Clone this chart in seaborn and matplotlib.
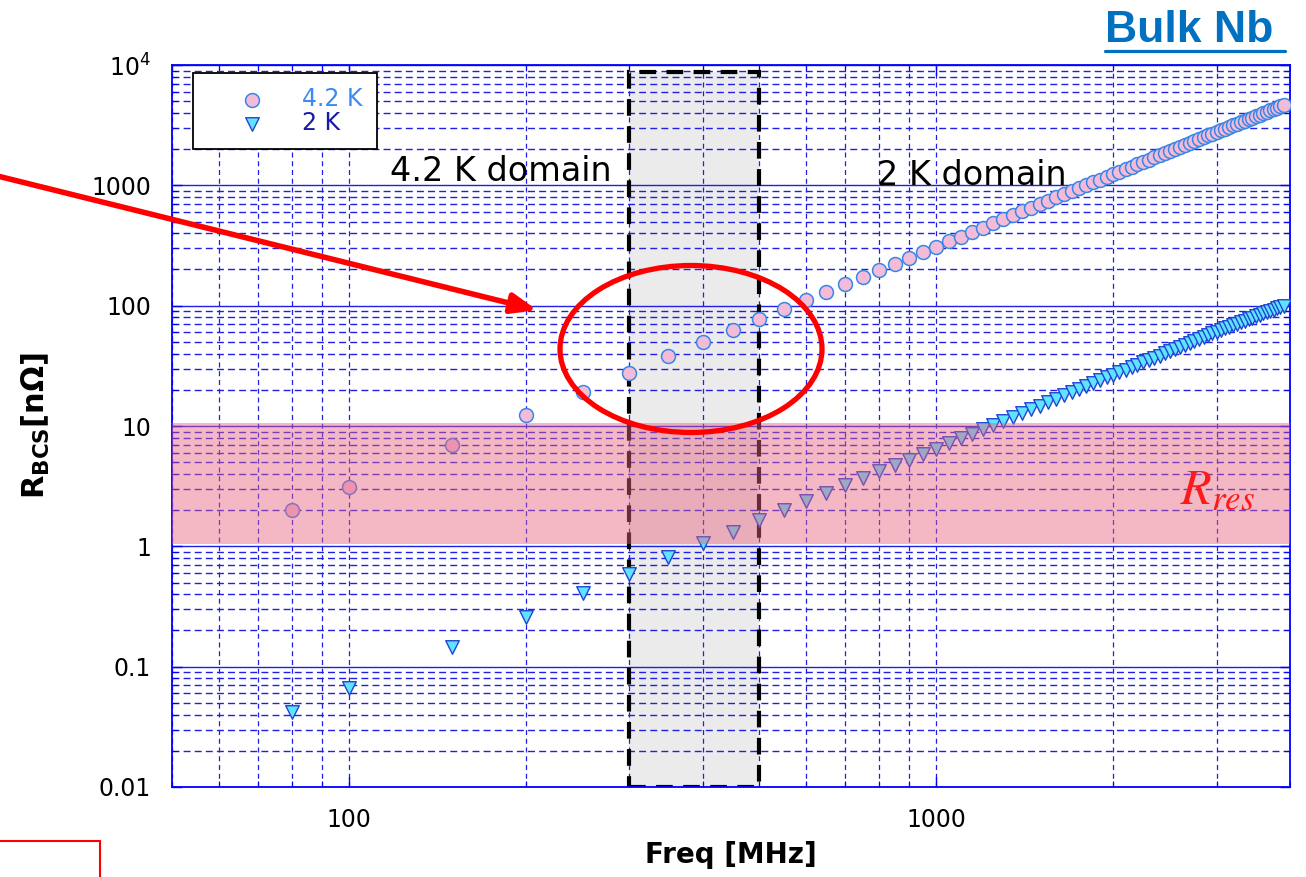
import numpy as np
import matplotlib
matplotlib.use("Agg")
import matplotlib.pyplot as plt
import seaborn as sns
from matplotlib.patches import Rectangle, Ellipse
from matplotlib.lines import Line2D
from matplotlib.ticker import LogLocator, NullFormatter

# data
freq_mhz = [80, 100, 150, 200, 250,
            300, 350, 400, 450, 500, 550, 600, 650, 700, 750,
            800, 850, 900, 950, 1000, 1050, 1100, 1150, 1200, 1250,
            1300, 1350, 1400, 1450, 1500, 1550, 1600, 1650, 1700, 1750,
            1800, 1850, 1900, 1950, 2000, 2050, 2100, 2150, 2200, 2250,
            2300, 2350, 2400, 2450, 2500, 2550, 2600, 2650, 2700, 2750,
            2800, 2850, 2900, 2950, 3000, 3050, 3100, 3150, 3200, 3250,
            3300, 3350, 3400, 3450, 3500, 3550, 3600, 3650, 3700, 3750,
            3800, 3850, 3900]

rbcs_42k = [2.0, 3.1, 7.0, 12.3, 19.2,
            27.8, 38.0, 49.5, 63.0, 77.0, 93.5, 111, 130, 151, 174,
            198, 224, 251, 280, 310, 342, 375, 410, 446, 484,
            524, 565, 607, 651, 697, 744, 793, 843, 895, 948,
            1003, 1059, 1116, 1175, 1238, 1300, 1364, 1430, 1497, 1566,
            1636, 1708, 1781, 1856, 1932, 2010, 2089, 2170, 2252, 2336,
            2421, 2508, 2596, 2685, 2770, 2860, 2955, 3050, 3145, 3245,
            3345, 3445, 3550, 3655, 3760, 3870, 3980, 4090, 4200, 4315,
            4430, 4545, 4660]

rbcs_2k = [0.042, 0.066, 0.145, 0.26, 0.41,
           0.59, 0.81, 1.06, 1.32, 1.66, 2.02, 2.38, 2.77, 3.22, 3.72,
           4.2, 4.72, 5.25, 5.85, 6.5, 7.2, 7.9, 8.6, 9.4, 10.2,
           11.0, 11.9, 12.8, 13.8, 14.8, 15.8, 16.9, 18.0, 19.1, 20.3,
           21.5, 22.7, 24.0, 25.3, 26.6, 28.0, 29.4, 30.8, 32.3, 33.8,
           35.3, 36.9, 38.5, 40.2, 41.9, 43.6, 45.4, 47.2, 49.0, 50.9,
           52.8, 54.8, 56.8, 58.8, 60.8, 62.8, 64.8, 66.8, 68.9, 71.0,
           73.1, 75.2, 77.3, 79.5, 81.7, 83.9, 86.1, 88.3, 90.5, 92.7,
           94.8, 96.9, 99.0]

y_ticks = [0.01, 0.1, 1, 10, 100, 1000, 10000]
y_ticklabels = ['0.01', '0.1', '1', '10', '100', '1000', '$10^4$']
x_ticks = [100, 1000]
x_ticklabels = ['100', '1000']

sns.set_style('ticks')
plt.rcParams['font.family'] = ['DejaVu Sans']
plt.rcParams['mathtext.fontset'] = 'dejavusans'
plt.rcParams['text.color'] = 'black'
plt.rcParams['axes.labelcolor'] = 'black'

W, H = 1306, 877
fig = plt.figure(figsize=(W / 100, H / 100), dpi=100)
ax = fig.add_axes([172 / W, 1 - 787 / H, 1118 / W, 722 / H])
ax.set_xscale('log')
ax.set_yscale('log')

grid_blue = '#1f1fe6'

# grey 300-500 MHz domain box
ax.add_patch(Rectangle((300, 0.01), 200, 8700, facecolor='#ebebeb',
                       edgecolor='none', zorder=0.2))
ax.add_patch(Rectangle((300, 0.01), 200, 8700, facecolor='none',
                       edgecolor='black', lw=3, ls=(0, (4, 2.5)), zorder=2.5))

sns.scatterplot(x=freq_mhz, y=rbcs_42k, ax=ax, marker='o', s=100,
                color='#f2bcd8', edgecolor='#3a86e8', linewidth=1.1,
                legend=False, zorder=3)
h42 = ax.collections[-1]
sns.scatterplot(x=freq_mhz, y=rbcs_2k, ax=ax, marker='v', s=95,
                color='#5fe3ff', edgecolor='#2244d4', linewidth=1.0,
                legend=False, zorder=3)
h2 = ax.collections[-1]

# residual resistance band
ax.axhspan(1.05, 10.5, color='#e8607e', alpha=0.45, lw=0, zorder=4)

ax.set_xlim(50, 4000)
ax.set_ylim(0.01, 10000)

ax.set_yticks(y_ticks)
ax.set_yticklabels(y_ticklabels)
ax.yaxis.set_minor_locator(LogLocator(base=10, subs=np.arange(2, 10)))
ax.yaxis.set_minor_formatter(NullFormatter())
ax.set_xticks(x_ticks)
ax.set_xticklabels(x_ticklabels)
ax.xaxis.set_minor_locator(LogLocator(base=10, subs=np.arange(2, 10)))
ax.xaxis.set_minor_formatter(NullFormatter())

ax.tick_params(which='both', direction='in', top=True, right=True,
               color='#0000ff', labelcolor='black', labelsize=17, pad=15)
ax.tick_params(which='major', length=7, width=1)
ax.tick_params(which='minor', length=4, width=0.8)

ax.set_axisbelow(True)
ax.grid(True, which='major', axis='y', color=grid_blue, ls='-', lw=1.0)
ax.grid(True, which='minor', axis='y', color=grid_blue, ls=(0, (5, 3)), lw=1.0)
ax.grid(True, which='both', axis='x', color=grid_blue, ls=(0, (4, 3)), lw=0.9)

for s in ax.spines.values():
    s.set_color('#0000ff')
    s.set_linewidth(1.3)

ax.set_ylabel(r'R$_{\mathbf{BCS}}$[nΩ]', fontsize=22, fontweight='bold',
              color='black')
ax.yaxis.set_label_coords(-0.107, 0.5)
ax.set_xlabel('Freq [MHz]', fontsize=20, fontweight='bold', color='black')
ax.xaxis.set_label_coords(0.5, -0.075)

ax.text(0.195, 0.8393, '4.2 K domain', transform=ax.transAxes,
        fontsize=24, va='baseline', color='black', zorder=5)
ax.text(0.6306, 0.8338, '2 K domain', transform=ax.transAxes,
        fontsize=24, va='baseline', color='black', zorder=5)
ax.text(0.9016, 0.393, r'$R_{res}$', transform=ax.transAxes,
        math_fontfamily='stix', fontsize=36, color='#ff1a1a',
        va='baseline', zorder=5)

leg = ax.legend([h42, h2], ['4.2 K', '2 K'], loc='upper left',
                bbox_to_anchor=(0.0188, 0.989), borderaxespad=0,
                fontsize=17, frameon=True, fancybox=False,
                edgecolor='black', framealpha=1, borderpad=0.6,
                labelspacing=0.0, handlelength=3.8, handletextpad=0.22,
                scatterpoints=1)
leg.get_frame().set_linewidth(1.3)
leg.get_texts()[0].set_color('#3d8af0')
leg.get_texts()[1].set_color('#1a1aa8')
leg.set_zorder(6)

# annotations on top of the figure
fig.text(1105 / W, 1 - 42 / H, 'Bulk Nb', fontfamily='Liberation Sans',
         fontweight='bold', fontsize=32, color='#0070c0', va='baseline')
fig.add_artist(Line2D([1105 / W, 1285 / W], [1 - 51 / H, 1 - 51 / H],
                      color='#0070c0', lw=2.3))

ax.annotate('', xy=(537 / W, 1 - 310 / H), xycoords='figure fraction',
            xytext=(-0.005, 1 - 175 / H), textcoords='figure fraction',
            arrowprops=dict(arrowstyle='-|>,head_length=1.0,head_width=0.4',
                            color='#ff0000', lw=4, shrinkA=0, shrinkB=0,
                            mutation_scale=15),
            annotation_clip=False, zorder=7)

fig.add_artist(Ellipse((691 / W, 1 - 349 / H), 262 / W, 167 / H,
                       transform=fig.transFigure, fill=False,
                       edgecolor='#ff0000', lw=3.8, zorder=7))

fig.add_artist(Rectangle((-0.01, 1 - 841 / H - 0.1), 100 / W + 0.01, 0.1,
                         transform=fig.transFigure, fill=False,
                         edgecolor='#ff0000', lw=1.5))

fig.savefig('out.png', dpi=100)
